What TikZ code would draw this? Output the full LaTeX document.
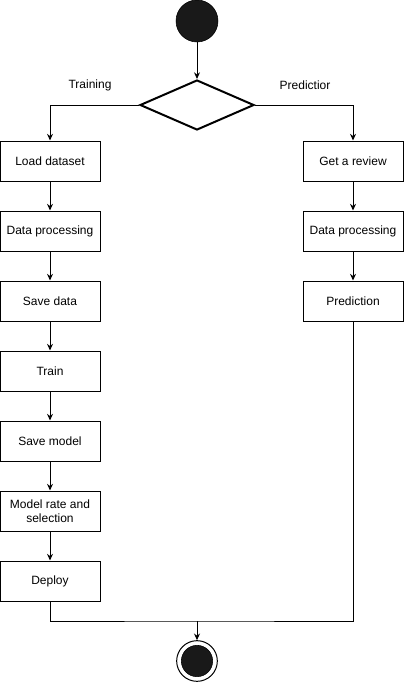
\documentclass[tikz,border=0pt]{standalone}
\usepackage{fontspec}
\setmainfont{Liberation Sans}
\usetikzlibrary{arrows.meta,shapes.geometric}
\tikzset{
  stepbox/.style={draw, line width=0.75pt, minimum width=75pt, minimum height=30pt, align=center, font=\fontsize{9}{10.5}\selectfont, inner sep=1pt},
  flow/.style={line width=0.75pt, -{Stealth[length=5pt,width=4.5pt]}},
  lbl/.style={font=\fontsize{9}{10.5}\selectfont}
}

\begin{document}
\begin{tikzpicture}[x=0.75pt, y=-0.75pt]
		%%%%% START %%%%%
		\useasboundingbox (0,0) rectangle (404,682);
		
		% start and choice
		\node[circle, draw, fill=black!90, minimum size=31.5pt, inner sep=0pt] (start) at (197,21) {};
		\node[diamond, draw, line width=1.5pt, minimum width=85.5pt, minimum height=37.5pt, inner sep=0pt, aspect=2.3] (choice) at (197,105) {};
		\draw[flow] (start) -- (choice);
		
		\node[lbl] (trainlbl) at (90,85) {Training};
		\node[lbl] (predlbl) at (305,85) {Predictior};
		
		% training branch
		\node[stepbox] (load) at (50,161) {Load dataset};
		\node[stepbox] (procA) at (50,231) {Data processing};
		\node[stepbox] (save) at (50,301) {Save data};
		\node[stepbox] (train) at (50,371) {Train};
		\node[stepbox] (savemodel) at (50,441) {Save model};
		\node[stepbox] (rate) at (50,511) {Model rate and\\selection};
		\node[stepbox] (deploy) at (50,581) {Deploy};
		
		% prediction branch
		\node[stepbox] (review) at (353,161) {Get a review};
		\node[stepbox] (procB) at (353,231) {Data processing};
		\node[stepbox] (predict) at (353,301) {Prediction};
		
		% end
		\node[circle, draw, line width=0.75pt, minimum size=30.5pt, inner sep=0pt] (stop) at (197,661) {};
		\node[circle, fill=black!90, draw, minimum size=23.5pt, inner sep=0pt] (stopdot) at (stop) {};
		\coordinate (join) at (197,621);
		
		\draw[flow] (choice.west) -| (load.north);
		\draw[flow] (choice.east) -| (review.north);
		\draw[flow] (load) -- (procA);
		\draw[flow] (procA) -- (save);
		\draw[flow] (save) -- (train);
		\draw[flow] (train) -- (savemodel);
		\draw[flow] (savemodel) -- (rate);
		\draw[flow] (rate) -- (deploy);
		\draw[flow] (review) -- (procB);
		\draw[flow] (procB) -- (predict);
		
		\draw[line width=0.75pt] (deploy.south) |- (join) -| (predict.south);
		\draw[flow] (join) -- (stop.north);
		%%%%% END %%%%%
\end{tikzpicture}
\end{document}
